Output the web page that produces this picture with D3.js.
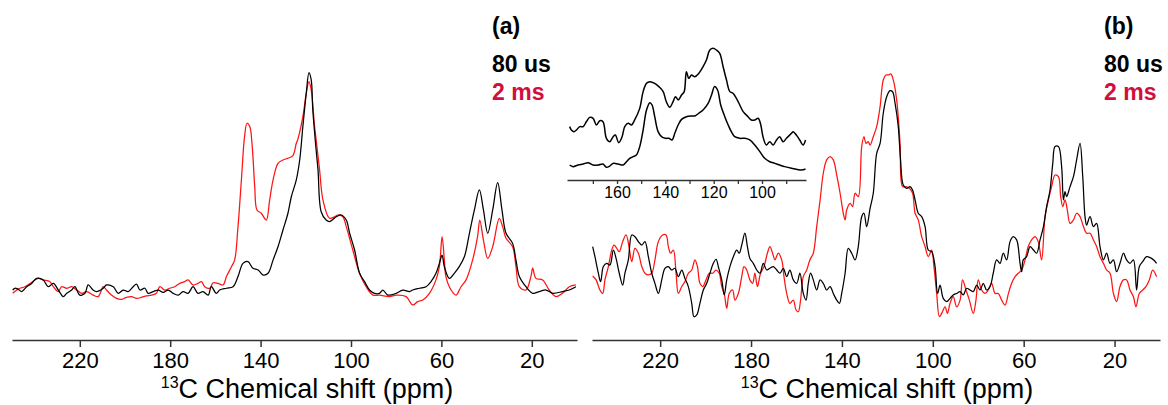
<!DOCTYPE html>
<html>
<head>
<meta charset="utf-8">
<script src="https://cdn.jsdelivr.net/npm/d3@7"></script>
<style>
  body { margin: 0; background: #fff; }
  svg { display: block; font-family: "Liberation Sans", Arial, Helvetica, sans-serif; }
  .axis path, .axis line { stroke: #333; stroke-width: 1.5; }
  .axis text { fill: #000; }
</style>
</head>
<body>
<svg id="chart" width="1168" height="405"></svg>
<script>
// panel (a): 80 us trace
var ppmA80 = [249.7, 248.7, 247.2, 245.7, 243.5, 241.3, 239.1, 236.2, 234, 231.7,
  229.5, 227.3, 225.8, 223.6, 222.2, 220, 217.7, 216.3, 214.1, 212.6,
  209.6, 208.2, 205.2, 203, 200.8, 198.6, 196.4, 194.9, 193.4, 191.2,
  189.8, 187.5, 185.3, 183.1, 180.9, 178.7, 176.5, 174.3, 172.1, 169.9,
  167.7, 165.5, 163.2, 161.8, 159.6, 158.1, 155.1, 152.2, 150, 147.8,
  145.6, 143.4, 141.1, 138.9, 136.7, 134.5, 132.3, 130.1, 127.9, 126.4,
  124.2, 122.7, 121.3, 119.8, 118.6, 117.6, 116.9, 115.7, 114.6, 113.2,
  111, 109.5, 106.5, 104.3, 102.1, 100.6, 98.4, 96.2, 94, 91.8,
  89.6, 87.4, 85.9, 83.7, 80, 77.1, 74.1, 72.7, 69.7, 66.8,
  64.6, 62.4, 60.9, 59.7, 58.7, 56.5, 54.3, 52.1, 49.8, 47.6,
  45.4, 43.2, 41.4, 39.5, 37.3, 35.1, 33.2, 31.4, 28.5, 27,
  25.5, 22.6, 19.6, 16.7, 13.7, 10.8, 6.4, 3.4, 0.5];
var intA80 = [0.9, 1.7, 1.2, 0.2, 2.4, 3.9, 6.2, 5.5, 2.4, 3.9,
  0.9, -2.1, -0.6, 0.9, 2.4, -1.4, -0.6, 3.2, 0.9, 0.2,
  1.7, 3.2, 2.4, -0.6, 0.9, 0.2, 2.4, 3.6, 0.9, 1.7,
  -0.6, 0.2, 0.9, -0.2, 0.9, -0.6, -1.4, 0.2, -0.6, 2.4,
  -0.6, 0.2, -1.4, 2.4, -0.6, 0.9, 1.7, 2.4, 7, 13,
  13.8, 10.8, 10, 7.7, 8.5, 14.5, 20.6, 28.2, 35.8, 43.3,
  51, 60, 75.2, 90.3, 99.7, 96.4, 82.7, 67.6, 55.5, 36.5,
  32.7, 32, 34.2, 35, 32.7, 26.7, 19.1, 8.5, 4.7, 0.9,
  -0.6, -0.6, 0.9, -1.4, -0.6, 0.9, 0.2, 0.9, 1.7, 2.4,
  4.7, 8.5, 13, 16.8, 11.5, 6.2, 8.5, 11.5, 16.1, 26.7,
  37.3, 46.4, 37.3, 26.7, 37.3, 49.7, 37.3, 26.7, 22.1, 14.5,
  7, 2.4, -0.6, 0.2, 0.9, -0.6, 0.2, 0.9, 2.4];

// panel (a): 2 ms trace
var ppmA2 = [249.7, 247.9, 246.5, 244.3, 242, 238.4, 236.2, 233.2, 231.7, 229.5,
  228.1, 225.8, 223.6, 221.4, 219.2, 217, 214.1, 211.9, 209.6, 208.2,
  206, 203.7, 201.5, 199.3, 197.1, 194.9, 192.7, 190.5, 188.3, 186.1,
  184.6, 182.4, 180.2, 178, 175.8, 173.6, 172.1, 169.9, 167.7, 166.2,
  164.7, 162.5, 161, 158.8, 156.6, 155.1, 152.9, 151.5, 150, 148.5,
  147.1, 146, 144.8, 143.7, 142.6, 141.6, 139.7, 137.5, 136, 134.5,
  132.3, 130.1, 127.9, 125.7, 124.2, 123.5, 121.3, 119.8, 118.6, 117.6,
  116.1, 115.4, 113.9, 112.4, 109.5, 107.3, 105.8, 103.6, 102.1, 99.2,
  96.2, 93.3, 90.3, 87.4, 83, 80, 75.6, 72.7, 70.5, 68.2,
  65.3, 62.4, 60.9, 59.7, 58.7, 58, 55.7, 53.5, 51.3, 49.1,
  46.2, 44, 43, 41.4, 39.5, 37.3, 34.4, 32.9, 31.4, 28.5,
  27, 25.5, 22.6, 20.4, 19.6, 18.2, 15.2, 12.3, 9.3, 6.4,
  3.4, 0.5];
var intA2 = [-0.6, 0.9, 1.7, 2.4, 3.9, 6.2, 5.5, 4.7, 2.4, 0.2,
  2.4, 1.7, 2.4, 0.9, -0.6, 0.2, -1.4, -2.1, 2.4, 0.9,
  -1.4, -2.9, -3.3, -2.4, -2.1, -2.9, -2.4, -1.8, -1.4, -0.6,
  2.4, 0.9, 1.7, 2.4, 3.9, 4.7, 5.5, 3.2, 3.9, 4.7,
  2.4, 1.7, 4.2, 3.9, 3.2, 7, 11.5, 14.5, 29.7, 50.9,
  70.6, 76.7, 75.2, 66.1, 47.9, 37.3, 35.8, 32.7, 41.8, 50.9,
  58.5, 60, 60.8, 62, 67.6, 69.5, 79.7, 90.3, 95.6, 91.8,
  75.2, 69.1, 55.5, 41.8, 33.5, 34.2, 35, 34.2, 29.7, 19.1,
  8.5, 2.4, -1.4, -1.4, -2.1, -1.4, -2.1, -5.9, -4.4, -3.6,
  -0.6, 5.5, 11.5, 25.2, 14.5, 7, 0.9, -1.4, 2.4, 5.5,
  14.5, 25.2, 32.7, 23.6, 15.3, 20.6, 33.5, 29.7, 24.4, 20.6,
  11.5, 2.4, 0.9, 7, 10.8, 6.2, 5.5, 0.9, -2.1, -0.6,
  2.4, 3.2];

// panel (b): 80 us trace
var ppmB80 = [249.7, 248.7, 247.2, 246.2, 245, 243.5, 242.1, 240.6, 239.4, 238,
  236.5, 235.5, 234, 232.5, 231.1, 229.6, 228.1, 226.7, 225.2, 223.7,
  222.3, 220.8, 219.3, 217.9, 216.4, 214.9, 213.5, 212, 210.5, 209.1,
  207.6, 206.1, 205.1, 203.9, 202.5, 201, 199.5, 198.1, 196.6, 195.4,
  194.4, 192.9, 191.8, 190.7, 189.3, 187.8, 186.3, 185.2, 184.1, 182.7,
  181.6, 180.5, 179, 177.5, 176.1, 174.6, 173.1, 171.7, 170.2, 168.7,
  167.3, 165.8, 164.3, 162.9, 161.4, 159.9, 158.5, 157, 155.8, 154.8,
  153.8, 152.6, 151.1, 149.6, 148.2, 146.7, 145.2, 143.8, 142.3, 141.1,
  140.1, 138.6, 137.2, 135.7, 134.2, 132.8, 131.3, 130.3, 129.1, 127.6,
  126.2, 124.7, 123.2, 121.8, 120.3, 118.8, 117.7, 116.6, 115.2, 114.2,
  113, 111.5, 110, 108.9, 107.8, 106.4, 104.9, 103.4, 102, 100.5,
  99, 97.9, 96.8, 95.4, 93.9, 92.4, 91, 89.5, 88, 86.6,
  85.1, 83.6, 82.2, 80.7, 79.2, 77.8, 76.3, 74.8, 73.4, 71.9,
  70.4, 69, 67.5, 66, 64.6, 63.1, 61.6, 60.9, 60.2, 58.7,
  57.2, 55.7, 54.3, 52.8, 51.3, 49.9, 48.4, 47.2, 46.2, 44.7,
  43.3, 42.5, 41.8, 41.1, 39.6, 38.1, 36.7, 35.2, 34, 33,
  32.3, 30.8, 29.3, 27.9, 26.4, 24.9, 23.5, 22, 20.5, 19.1,
  17.6, 16.1, 14.7, 13.2, 11.7, 10.3, 9.1, 7.6, 5.9, 3.7,
  1.5];
var intB80 = [20.2, 15.5, 7.8, 3.9, 10.9, 12.4, 11.6, 18.6, 14.7, 7.8,
  2.3, 7.8, 14, 25.6, 24.8, 22.5, 20.9, 22.5, 15.5, 7.8,
  3.1, -1.6, 4.7, 10.1, 10.9, 9.3, 10.1, 6.2, 9.3, 5.4,
  1.6, -6.2, -12.4, -11.6, -6.2, 0, 3.1, 7.8, 12.4, 14.3,
  10.9, 4.7, -2.3, 4.7, 10.9, 15.5, 18.6, 17.1, 20.9, 26.4,
  20.2, 14.7, 12.4, 9.3, 7.8, 12.4, 9.3, 10.1, 10.9, 9.3,
  7.8, 10.1, 6.2, 9.3, 4.7, 3.1, 7.8, -1.6, -4.7, 3.1,
  7.8, 4.7, 0, 4.7, 3.1, 0, 1.6, -1.6, -4.7, -6.2,
  -1.6, 7.8, 19.4, 17.1, 14, 20.2, 34.1, 35.7, 29.5, 38,
  45, 63.6, 68.2, 82.2, 89.9, 92.7, 92.2, 86.8, 76, 60.5,
  48.8, 47.3, 48.1, 46.5, 41.9, 35.7, 34.1, 29.5, 18.6, 17.8,
  10.9, -1.6, 2.3, -3.9, -5.4, -3.9, -2.3, -1.6, -0.8, -2.3,
  0.8, 0, -0.8, 2.3, 0, 3.1, 0, 1.6, 7.8, 14,
  12.4, 17.1, 14, 22.5, 24.8, 23.3, 12.4, 8.5, 14, 15.5,
  20.2, 18.6, 17.1, 23.3, 29.5, 38.8, 46.5, 58.9, 66.7, 66.7,
  57.4, 41.9, 45.7, 43.4, 48.1, 52.7, 60.5, 68.2, 52.7, 34.1,
  30.2, 34.1, 29.5, 31, 20.2, 14, 17.1, 12.4, 14, 8.5,
  12.4, 17.1, 14, 12.4, 14, 0, 10.9, 13.2, 15.5, 14.7,
  12.4];

// panel (b): 2 ms trace
var ppmB2 = [249.7, 248.2, 246.5, 245.3, 244.3, 242.8, 241.3, 240.3, 239.1, 238,
  236.5, 235, 233.6, 232.5, 231.1, 229.6, 228.1, 226.7, 225.2, 223.7,
  222.3, 220.8, 218.9, 217.4, 216.4, 215.4, 214.2, 213, 212, 210.5,
  209.1, 207.6, 206.1, 204.7, 203.6, 202.5, 201.3, 199.8, 198.4, 196.9,
  195.4, 194, 192.9, 191.8, 190.7, 189.6, 188.1, 187.1, 185.6, 184.1,
  183.1, 181.9, 180.5, 179.3, 178.3, 177.2, 175.8, 174.3, 172.8, 171.7,
  170.5, 169.5, 168, 166.5, 165.5, 164.3, 162.9, 161.4, 160.2, 159.2,
  158.2, 157, 155.5, 154.1, 152.6, 151.1, 149.6, 148.2, 146.7, 145.2,
  143.8, 142.3, 140.8, 139.4, 138.6, 137.9, 136.4, 135.3, 134.2, 132.8,
  131.3, 130.3, 129.4, 128.4, 127.6, 126.2, 124.7, 123.2, 121.8, 120.6,
  119.6, 118.5, 117.4, 115.9, 114.4, 113.3, 111.8, 110.3, 108.9, 107.8,
  106.4, 104.9, 103.4, 102, 100.5, 99.5, 98.3, 97.1, 96.1, 94.6,
  93.6, 92.4, 91, 89.5, 88, 86.9, 85.4, 83.9, 82.2, 81,
  80, 78.5, 77, 75.6, 74.1, 72.6, 71.2, 69.7, 68.2, 66.7,
  65.3, 63.8, 62.4, 60.9, 59.4, 58, 56.5, 55, 53.6, 52.1,
  50.6, 49.1, 47.7, 46.2, 44.7, 43.7, 42.8, 41.8, 40.8, 39.6,
  38.1, 36.7, 35.2, 33.7, 32.3, 30.8, 29.3, 27.9, 26.4, 24.9,
  23.5, 22, 20.5, 19.1, 17.6, 16.1, 14.7, 13.2, 11.7, 10.6,
  9.1, 7.6, 6.2, 4.7, 3.2, 1.5];
var intB2 = [6.5, 4.7, 0, -1.6, 4.7, 10.9, 18.6, 20.9, 19.4, 17.8,
  22.5, 25.6, 19.4, 13.2, 19.4, 17.1, 10.9, 7.8, 7, 7.8,
  14, 22.5, 25.6, 25.6, 20.2, 17.1, 18.6, 7.8, -1.6, 1.6,
  3.9, 7.8, 9.3, 14, 10.9, 3.1, 1.6, 4.7, 7.8, 7.8,
  9.3, 7.8, 1.6, -1.6, -8.5, -1.6, 0, -4.7, -1.6, 6.2,
  10.9, 9.3, 4.7, 3.1, 7.8, 1.6, 7.8, 10.9, 17.1, 20.2,
  17.1, 14, 17.1, 14, 6.2, -1.6, -6.2, -4.7, -9.3, -10.1,
  -4.7, 6.2, 9.3, 14, 17.1, 29.5, 41.9, 54.3, 60.5, 62,
  60.5, 53.5, 45, 35.7, 32.6, 37.2, 40.3, 38.8, 45, 43.4,
  66.7, 71.3, 68.2, 69, 67.4, 71.3, 76, 85.3, 97.7, 100,
  100, 100.5, 97.7, 88.4, 68.2, 48.1, 48.1, 47.3, 45, 35.7,
  32.6, 24.8, 20.2, 15.5, 18.6, 10.9, -1.6, -12.4, -10.9, -7.8,
  -10.9, -6.2, -3.1, -7.8, -4.7, 4.7, 0, -4.7, -10.9, -4.7,
  4.7, 0, -1.6, 0, 3.1, -1.6, -1.6, -4.7, -7, -1.6,
  3.1, 6.2, 7.8, 9.3, 14, 20.2, 23.3, 24.8, 22.5, 14,
  34.1, 41.9, 48.1, 53.5, 52.7, 43.4, 38.8, 41.9, 37.2, 31,
  32.6, 35.7, 34.1, 29.5, 26.4, 26.4, 23.3, 20.2, 15.5, 12.4,
  9.3, 7.8, -1.6, -5.4, 1.6, 4.7, 4.7, 0, -3.1, -7.8,
  -1.6, 0, 1.6, 4.7, 9.3, 6.2];

// inset: upper and lower traces
var ppmInTop = [179.6, 178.9, 177.8, 176.8, 175.4, 174, 172.7, 171.3, 169.9, 168.5,
  167.1, 165.8, 164.4, 163, 161.6, 160.7, 159.3, 157.9, 156.8, 155.4,
  154, 152.7, 150.6, 149.2, 147.8, 146.4, 144.4, 142.7, 140.9, 139.6,
  138.2, 136.8, 135.8, 134.7, 133.3, 132.2, 131.3, 130.3, 129.2, 127.8,
  126.2, 124.4, 123, 121.6, 120.2, 118.9, 117.5, 116.1, 114.7, 113.3,
  112, 110.6, 109.2, 107.8, 105.8, 104.4, 103, 101.6, 100.5, 99.6,
  98.2, 96.8, 95.4, 94, 92.7, 91.3, 89.9, 87.8, 87.1, 85.8,
  84.4, 83, 82];
var intInTop = [32.8, 29.9, 28.5, 29.9, 32.8, 32.8, 37, 40.7, 39.9, 34.2,
  37.9, 37, 22.8, 19.9, 24.2, 25.6, 19.1, 24.2, 32.8, 35.6,
  34.2, 38.5, 48.4, 62.7, 69.8, 71.2, 69.8, 67, 62.7, 54.1,
  49.3, 54.1, 58.4, 55.6, 59.8, 62.7, 79.8, 74.1, 76.9, 75.5,
  78.3, 84, 89.7, 98.3, 99.7, 98.3, 95.4, 84, 72.6, 62.7,
  61.3, 57, 51.3, 45.6, 41.3, 38.5, 38.5, 39.9, 34.2, 24.2,
  17.1, 19.9, 17.1, 21.4, 24.2, 19.9, 22.8, 27.1, 28.5, 25.6,
  21.4, 17.1, 21.4];
var ppmInBot = [179.6, 178.2, 176.1, 174, 172, 169.9, 167.8, 165.8, 164.4, 163,
  161.6, 159.6, 157.5, 156.1, 154.7, 153.3, 152, 150.6, 149.2, 147.8,
  146.4, 145.5, 144.4, 143, 141.6, 140, 138.6, 137.2, 136.1, 134.7,
  133.3, 131.3, 129.2, 127.8, 126.2, 124.4, 122.3, 120.9, 119.6, 118.4,
  117.1, 115.4, 114, 112.7, 111.3, 109.2, 107.1, 105.1, 103, 100.9,
  98.9, 96.8, 94.7, 92.7, 90.6, 87.8, 83.7, 82];
var intInBot = [0, -1.4, 0, 0.9, 2, 0, 0, 0.9, -2, -0.9,
  1.4, 0.9, 0, 2.8, 5.7, 7.1, 8.5, 15.7, 29.9, 47,
  53.3, 51.3, 41.3, 28.5, 24.2, 22.8, 22.8, 21.4, 27.1, 34.2,
  39, 41.3, 41.9, 41.9, 44.2, 47, 52.7, 59.8, 67, 64.1,
  51.3, 41.3, 34.2, 28.5, 24.2, 22.8, 22.8, 21.4, 17.1, 11.4,
  5.7, 2.8, 1.4, 0, -1.4, -2.8, -4.3, -3.4];

var mainTicks = [220, 180, 140, 100, 60, 20];
var insetTicks = [170, 160, 150, 140, 130, 120, 110, 100, 90];
var insetLabels = [160, 140, 120, 100];
var legendItems = ["80 us", "2 ms"];

var black = "#000", red = "#ff1414", redText = "#d10f3c";

var svg = d3.select('#chart');

function zip(p, v) {
  return p.map(function(d, i) { return {ppm: d, v: v[i]}; });
}

function drawPanel(opt) {
  var x = d3.scaleLinear().domain([250, 0]).range(opt.xr);
  var y = d3.scaleLinear().domain([0, 100]).range(opt.yr);
  var g = svg.append('g');

  var line = d3.line()
    .x(function(d) { return x(d.ppm); })
    .y(function(d) { return y(d.v); })
    .curve(d3.curveCatmullRom.alpha(0.5));

  g.append('path')
    .datum(zip(opt.ppm2, opt.int2))
    .attr('fill', 'none')
    .attr('stroke', red)
    .attr('stroke-width', 1.25)
    .attr('stroke-linejoin', 'round')
    .attr('d', line);

  g.append('path')
    .datum(zip(opt.ppm80, opt.int80))
    .attr('fill', 'none')
    .attr('stroke', black)
    .attr('stroke-width', 1.25)
    .attr('stroke-linejoin', 'round')
    .attr('d', line);

  g.append('g')
    .attr('class', 'axis')
    .attr('transform', 'translate(0,340)')
    .call(d3.axisBottom(x).tickValues(mainTicks).tickSize(7).tickSizeOuter(0).tickPadding(5))
    .call(function(a) {
      a.selectAll('text').style('font-size', '22px').style('font-family', null);
    });

  var t = g.append('text')
    .attr('x', opt.titleX)
    .attr('y', 398)
    .attr('text-anchor', 'middle')
    .style('font-size', '27px');
  t.append('tspan').style('font-size', '16px').attr('dy', -10).text('13');
  t.append('tspan').attr('dy', 10).text('C Chemical shift (ppm)');

  var lg = g.append('g').attr('transform', 'translate(' + opt.legX + ',0)')
    .style('font-weight', 'bold').style('font-size', '23px');
  lg.append('text').attr('y', 34).text(opt.tag);
  lg.append('text').attr('y', 72).attr('fill', black).text(legendItems[0]);
  lg.append('text').attr('y', 100).attr('fill', redText).text(legendItems[1]);
}

drawPanel({xr: [12, 577], yr: [292, 72], ppm80: ppmA80, int80: intA80,
  ppm2: ppmA2, int2: intA2, titleX: 307, legX: 492, tag: '(a)'});
drawPanel({xr: [592, 1160], yr: [290, 75], ppm80: ppmB80, int80: intB80,
  ppm2: ppmB2, int2: intB2, titleX: 887, legX: 1104, tag: '(b)'});

// inset
var xi = d3.scaleLinear().domain([180.7, 81.8]).range([567, 806]);
var yi = d3.scaleLinear().domain([0, 100]).range([165, 48]);
var inset = svg.append('g');
var lineI = d3.line()
  .x(function(d) { return xi(d.ppm); })
  .y(function(d) { return yi(d.v); })
  .curve(d3.curveCatmullRom.alpha(0.5));

[[ppmInTop, intInTop], [ppmInBot, intInBot]].forEach(function(s) {
  inset.append('path')
    .datum(zip(s[0], s[1]))
    .attr('fill', 'none')
    .attr('stroke', black)
    .attr('stroke-width', 1.5)
    .attr('stroke-linejoin', 'round')
    .attr('d', lineI);
});

inset.append('g')
  .attr('class', 'axis')
  .attr('transform', 'translate(0,180)')
  .call(d3.axisBottom(xi).tickValues(insetTicks).tickSize(4).tickSizeOuter(0)
    .tickFormat(function(d) { return insetLabels.indexOf(d) >= 0 ? d : ''; }))
  .call(function(a) {
    a.selectAll('text').style('font-size', '16px').style('font-family', null);
    a.selectAll('path, line').style('stroke-width', 1.3);
  });
</script>
</body>
</html>
